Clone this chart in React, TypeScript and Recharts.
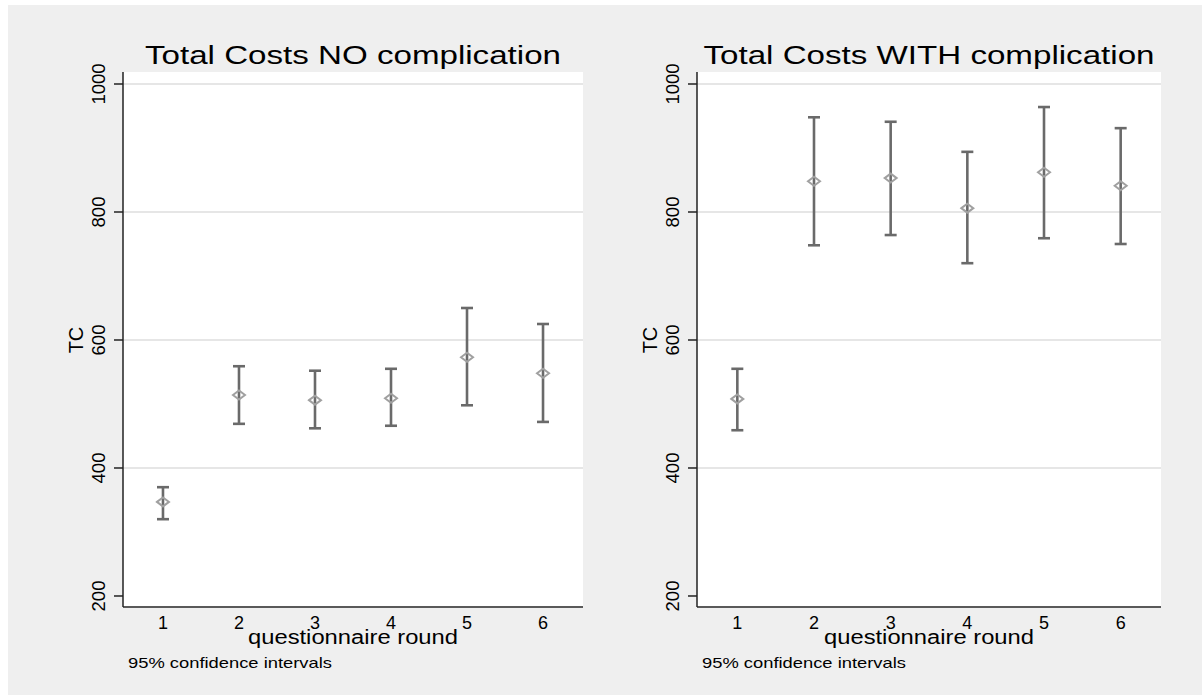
import React from 'react';
import {
  ScatterChart,
  Scatter,
  XAxis,
  YAxis,
  ErrorBar,
  ReferenceLine,
  CartesianGrid,
} from 'recharts';

// questionnaire rounds and axis ticks
const rounds = [1, 2, 3, 4, 5, 6];
const yTicks = [200, 400, 600, 800, 1000];
const gridValues = [400, 600, 800, 1000];

// Total Costs NO complication: mean and 95% CI
const noCompMean = [347, 514, 506, 509, 573, 548];
const noCompLow = [320, 469, 462, 466, 498, 472];
const noCompHigh = [370, 559, 552, 555, 650, 625];

// Total Costs WITH complication: mean and 95% CI
const withCompMean = [508, 848, 853, 806, 862, 841];
const withCompLow = [459, 748, 764, 720, 759, 750];
const withCompHigh = [555, 948, 941, 894, 964, 931];

const FONT = '"Liberation Sans", Arial, sans-serif';
const Y_DOMAIN: [number, number] = [182.8, 1018.75];
const X_DOMAIN: [number, number] = [0.474, 6.526];

function buildRows(mean: number[], low: number[], high: number[]) {
  return rounds.map((r, i) => ({
    x: r,
    y: mean[i],
    err: [mean[i] - low[i], high[i] - mean[i]],
  }));
}

const YTick = (props: any) => {
  const { x, y, payload } = props;
  const tx = x - 7;
  return (
    <text
      x={tx}
      y={y}
      transform={`rotate(-90 ${tx} ${y})`}
      textAnchor="middle"
      fontSize={18.5}
      fontFamily={FONT}
      fill="#000"
    >
      {payload.value}
    </text>
  );
};

const XTick = (props: any) => {
  const { x, y, payload } = props;
  return (
    <text x={x} y={y + 14} textAnchor="middle" fontSize={18} fontFamily={FONT} fill="#000">
      {payload.value}
    </text>
  );
};

const Diamond = (props: any) => {
  const { cx, cy } = props;
  if (cx == null || cy == null) return null;
  const pts = `${cx - 6},${cy} ${cx},${cy - 4.5} ${cx + 6},${cy} ${cx},${cy + 4.5}`;
  return <polygon points={pts} fill="none" stroke="#a0a0a0" strokeWidth={2} />;
};

interface PanelProps {
  left: number;
  width: number;
  marginLeft: number;
  marginRight: number;
  rows: { x: number; y: number; err: number[] }[];
}

function Panel({ left, width, marginLeft, marginRight, rows }: PanelProps) {
  return (
    <div style={{ position: 'absolute', left, top: 0 }}>
      <ScatterChart
        width={width}
        height={700}
        margin={{ top: 72, right: marginRight, bottom: 53, left: marginLeft }}
      >
        <CartesianGrid fill="#ffffff" horizontal={false} vertical={false} stroke="none" />
        {gridValues.map((v) => (
          <ReferenceLine key={v} y={v} stroke="#e6e6e6" strokeWidth={2} />
        ))}
        <XAxis
          type="number"
          dataKey="x"
          domain={X_DOMAIN}
          ticks={rounds}
          allowDataOverflow
          height={40}
          tickLine={false}
          axisLine={{ stroke: '#5a5a5a', strokeWidth: 2 }}
          tick={<XTick />}
        />
        <YAxis
          type="number"
          dataKey="y"
          domain={Y_DOMAIN}
          ticks={yTicks}
          allowDataOverflow
          width={60}
          tickSize={9}
          tickLine={{ stroke: '#222', strokeWidth: 1.5 }}
          axisLine={{ stroke: '#222', strokeWidth: 1.5 }}
          tick={<YTick />}
        />
        <Scatter data={rows} shape={<Diamond />} isAnimationActive={false}>
          <ErrorBar
            dataKey="err"
            direction="y"
            width={6}
            stroke="#6a6a6a"
            strokeWidth={2.6}
            isAnimationActive={false}
          />
        </Scatter>
      </ScatterChart>
    </div>
  );
}

export default function App() {
  const noRows = buildRows(noCompMean, noCompLow, noCompHigh);
  const withRows = buildRows(withCompMean, withCompLow, withCompHigh);
  return (
    <div
      style={{
        position: 'absolute',
        left: 0,
        top: 0,
        width: 1202,
        height: 700,
        background: '#ffffff',
        fontFamily: FONT,
      }}
    >
      <div
        style={{
          position: 'absolute',
          left: 8,
          top: 5,
          width: 1194,
          height: 690,
          background: '#efefef',
        }}
      />
      <Panel left={0} width={600} marginLeft={63} marginRight={17} rows={noRows} />
      <Panel left={600} width={602} marginLeft={37} marginRight={41} rows={withRows} />
      <svg
        width={1202}
        height={700}
        style={{ position: 'absolute', left: 0, top: 0, pointerEvents: 'none' }}
      >
        <g fontFamily={FONT} fill="#000">
          <text x={353} y={64} textAnchor="middle" fontSize={26} textLength={416} lengthAdjust="spacingAndGlyphs">
            Total Costs NO complication
          </text>
          <text x={929} y={64} textAnchor="middle" fontSize={26} textLength={451} lengthAdjust="spacingAndGlyphs">
            Total Costs WITH complication
          </text>
          <text x={353} y={644} textAnchor="middle" fontSize={20} textLength={210} lengthAdjust="spacingAndGlyphs">
            questionnaire round
          </text>
          <text x={929} y={644} textAnchor="middle" fontSize={20} textLength={210} lengthAdjust="spacingAndGlyphs">
            questionnaire round
          </text>
          <text x={128} y={668} fontSize={15} textLength={204} lengthAdjust="spacingAndGlyphs">
            95% confidence intervals
          </text>
          <text x={702} y={668} fontSize={15} textLength={204} lengthAdjust="spacingAndGlyphs">
            95% confidence intervals
          </text>
          <text x={83} y={340} transform="rotate(-90 83 340)" textAnchor="middle" fontSize={20}>
            TC
          </text>
          <text x={657} y={340} transform="rotate(-90 657 340)" textAnchor="middle" fontSize={20}>
            TC
          </text>
        </g>
      </svg>
    </div>
  );
}
